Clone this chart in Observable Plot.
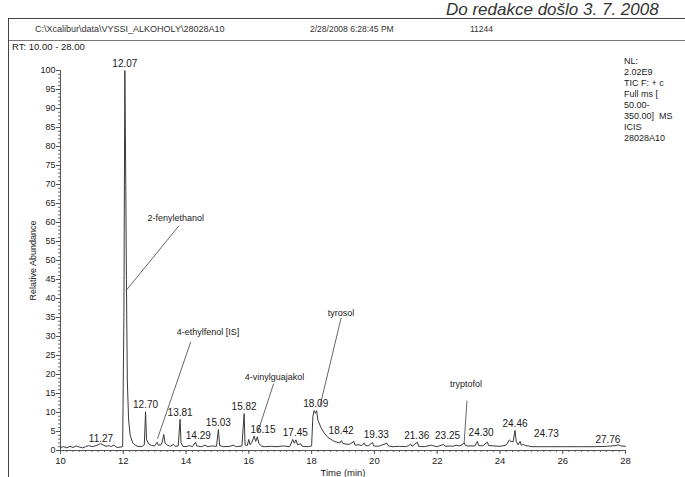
<!DOCTYPE html>
<html>
<head>
<meta charset="utf-8">
<script src="https://cdn.jsdelivr.net/npm/d3@7"></script>
<script src="https://cdn.jsdelivr.net/npm/@observablehq/plot@0.6"></script>
<style>
  html, body { margin: 0; padding: 0; background: #fff; }
  #page { position: relative; width: 685px; height: 477px; overflow: hidden; background: #fff;
          font-family: "Liberation Sans", Arial, sans-serif; color: #222; }
  #frame { position: absolute; left: 8px; top: 18px; width: 720px; height: 520px;
           border-left: 1px solid #444; border-top: 1px solid #444; }
  #stamp { position: absolute; left: 446px; top: 1px; font-size: 17px; font-style: italic;
           line-height: 17px; white-space: nowrap; color: #333; }
  .hdr { position: absolute; top: 24px; font-size: 8.5px; line-height: 10px; white-space: nowrap; color: #333; }
  #sep { position: absolute; left: 9px; top: 40px; width: 690px; height: 0; border-top: 1px solid #777; }
  #rt { position: absolute; left: 12px; top: 42px; font-size: 9.5px; line-height: 10px; color: #222; }
  #info { position: absolute; left: 624px; top: 56px; font-size: 9px; line-height: 11px; color: #222; white-space: pre; }
  #chart { position: absolute; left: 0; top: 50px; }
</style>
</head>
<body>
<div id="page">
  <div id="stamp">Do redakce došlo 3. 7. 2008</div>
  <div id="frame"></div>
  <div class="hdr" style="left:35px; font-size:9px">C:\Xcalibur\data\VYSSI_ALKOHOLY\28028A10</div>
  <div class="hdr" style="left:310px">2/28/2008 6:28:45 PM</div>
  <div class="hdr" style="left:470px">11244</div>
  <div id="sep"></div>
  <div id="rt">RT: 10.00 - 28.00</div>
  <div id="chart"></div>
  <div id="info"></div>
</div>
<script>
// ---- data ----
const traceTime = [
  10.0,10.1,10.2,10.3,10.4,10.5,10.6,10.7,10.8,10.9,11.0,11.1,11.2,11.27,11.35,11.45,11.55,11.6,11.7,11.8,11.9,11.98,
  12.02,12.05,12.08,12.1,12.13,12.17,12.22,12.3,12.4,12.5,12.6,12.67,12.71,12.74,12.8,12.9,
  13.0,13.08,13.12,13.2,13.24,13.29,13.33,13.4,13.5,13.6,13.65,13.75,13.81,13.84,13.9,14.0,14.1,14.2,14.3,14.34,
  14.5,14.6,14.7,14.8,14.97,15.03,15.07,15.2,15.4,15.5,15.6,15.78,15.85,15.88,15.95,16.0,16.04,16.1,16.17,16.22,16.27,16.32,16.4,
  16.5,16.7,16.9,17.1,17.3,17.4,17.45,17.5,17.55,17.65,17.7,17.9,18.0,18.04,18.08,18.12,18.16,18.2,18.3,18.4,18.5,18.6,18.7,18.8,
  18.9,18.95,19.0,19.2,19.35,19.38,19.5,19.6,19.68,19.72,19.8,19.94,19.98,20.1,20.2,20.4,20.45,20.5,20.6,20.8,21.0,21.1,21.15,21.2,
  21.37,21.41,21.6,21.8,22.0,22.2,22.25,22.4,22.5,22.6,22.7,22.8,22.86,22.9,23.0,23.2,23.28,23.32,23.45,23.6,23.64,23.8,
  24.0,24.2,24.3,24.35,24.42,24.48,24.52,24.58,24.64,24.68,24.75,24.8,24.9,25.0,25.3,25.6,26.0,26.5,27.0,27.4,27.7,27.76,27.85,28.0
];
const traceAbund = [
  0.8,1.0,0.7,1.1,0.8,1.2,0.9,0.7,1.0,1.3,1.0,1.2,1.5,1.8,1.5,1.1,1.3,1.0,1.4,0.8,0.9,1.0,
  35,100,70,45,18,8,4,2,1.3,1.0,1.1,1.5,10.2,3,1.8,1.3,
  1.2,2.2,1.4,1.5,2.2,4.2,2.0,1.4,1.1,1.6,1.1,1.2,8.2,2,1.1,1.0,1.3,1.0,2.2,1.2,
  1.0,1.4,1.0,1.2,1.1,5.5,1.3,1.0,1.1,1.4,1.0,1.2,9.7,1.5,1.3,2.9,1.5,2.2,3.8,2.4,3.6,1.8,1.2,
  1.0,1.1,1.0,1.2,1.0,2.9,1.9,2.8,1.5,1.8,1.1,1.0,1.2,9,10.5,9.8,10.5,8,6,4.6,3.6,3.0,2.5,2.2,
  2.0,2.6,1.8,1.6,2.4,1.4,1.5,1.3,2.0,1.3,1.2,2.1,1.2,1.1,1.3,1.9,1.2,1.1,1.0,1.1,1.0,1.3,1.7,1.1,
  2.2,1.1,1.0,1.4,1.0,1.6,1.1,1.2,1.1,1.4,1.2,1.5,2.1,1.3,1.2,1.2,2.4,1.3,1.2,2.2,1.3,1.2,
  1.1,1.4,2.8,2.4,2.3,5.3,2.3,1.5,2.4,1.4,1.6,1.3,1.2,1.0,1.0,1.0,1.0,1.0,1.0,1.1,1.3,1.5,1.2,1.1
];

const peakText  = ["11.27","12.07","12.70","13.81","14.29","15.03","15.82","16.15","17.45","18.09","18.42","19.33","21.36","23.25","24.30","24.46","24.73","27.76"];
const peakLabelTime  = [11.29,12.05,12.71,13.81,14.39,15.03,15.85,16.45,17.48,18.13,18.94,20.06,21.35,22.33,23.40,24.48,25.48,27.44];
const peakLabelAbund = [3.2,101.8,11.9,9.9,3.8,7.3,11.4,5.5,4.6,12.3,5.1,4.2,3.8,3.8,4.6,7.0,4.4,2.9];

const compoundNames = ["2-fenylethanol","4-ethylfenol [IS]","4-vinylguajakol","tyrosol","tryptofol"];
const compoundTime  = [13.67,14.70,16.82,18.94,22.92];
const compoundAbund = [61.2,31.2,19.2,36.2,17.6];
const leaderFromTime  = [13.77,14.15,16.79,18.94,22.95];
const leaderFromAbund = [59.1,28.6,17.6,34.9,13.1];
const leaderToTime    = [12.08,13.09,16.28,18.27,22.86];
const leaderToAbund   = [42.0,3.1,4.7,11.8,2.1];

const yTicks = [0,5,10,15,20,25,30,35,40,45,50,55,60,65,70,75,80,85,90,95,100];
const xTicks = [10,12,14,16,18,20,22,24,26,28];
const infoLines = ["NL:","2.02E9","TIC F: + c","Full ms [","50.00-","350.00]  MS","ICIS","28028A10"];

// ---- build tables ----
const trace = traceTime.map((t, i) => ({t, a: traceAbund[i]}));
const peaks = peakText.map((s, i) => ({s, t: peakLabelTime[i], a: peakLabelAbund[i]}));
const comps = compoundNames.map((s, i) => ({s, t: compoundTime[i], a: compoundAbund[i],
  x1: leaderFromTime[i], y1: leaderFromAbund[i], x2: leaderToTime[i], y2: leaderToAbund[i]}));

document.getElementById("info").textContent = infoLines.join("\n");

const chart = Plot.plot({
  width: 685,
  height: 427,
  marginTop: 20,
  marginBottom: 27,
  marginLeft: 60,
  marginRight: 60,
  x: {domain: [10, 28]},
  y: {domain: [0, 100]},
  style: {fontFamily: "'Liberation Sans', Arial, sans-serif", color: "#222", background: "transparent", overflow: "visible"},
  marks: [
    Plot.axisY({ticks: d3.range(0, 101, 1), tickSize: 2, text: null, label: null, stroke: "#666"}),
    Plot.axisY({ticks: yTicks, tickSize: 4, tickPadding: 1, fontSize: 9, stroke: "#555",
      label: "Relative Abundance", labelAnchor: "center", labelArrow: "none", labelOffset: 31}),
    Plot.axisX({ticks: d3.range(10, 28.01, 0.2), tickSize: 2, text: null, label: null, stroke: "#666"}),
    Plot.axisX({ticks: xTicks, tickSize: 4, tickPadding: 3, fontSize: 9.5, stroke: "#555",
      label: "Time (min)", labelAnchor: "center", labelArrow: "none", labelOffset: 25}),
    Plot.ruleX([10], {stroke: "#555"}),
    Plot.ruleY([0], {stroke: "#555"}),
    Plot.line(trace, {x: "t", y: "a", stroke: "#3a3a3a", strokeWidth: 1}),
    Plot.link(comps, {x1: "x1", y1: "y1", x2: "x2", y2: "y2", stroke: "#555", strokeWidth: 0.9}),
    Plot.text(peaks, {x: "t", y: "a", text: "s", fontSize: 10, fill: "#1a1a1a"}),
    Plot.text(comps, {x: "t", y: "a", text: "s", fontSize: 9, fill: "#1a1a1a"})
  ]
});
document.getElementById("chart").appendChild(chart);
</script>
</body>
</html>
